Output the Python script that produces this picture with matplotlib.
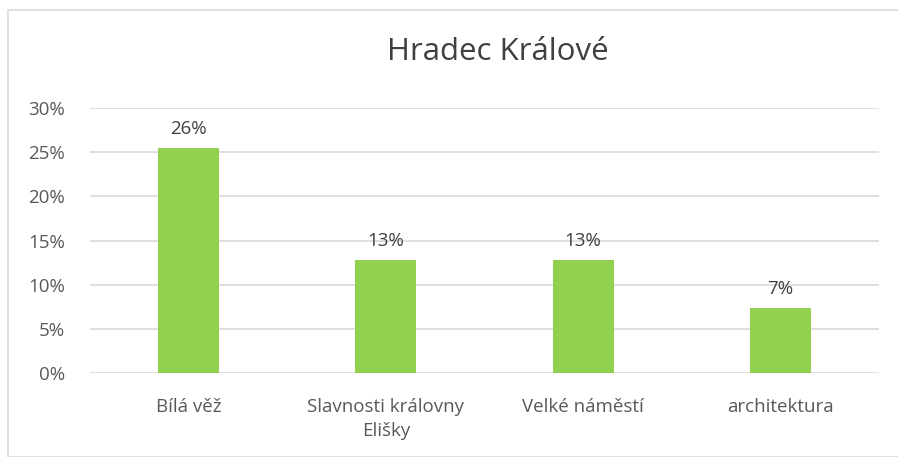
import matplotlib.pyplot as plt
from matplotlib.patches import Rectangle
from matplotlib.ticker import FuncFormatter

categories = ['Bílá věž', 'Slavnosti královny\nElišky', 'Velké náměstí', 'architektura']
values = [0.255, 0.128, 0.128, 0.074]
labels = ['26%', '13%', '13%', '7%']

plt.rcParams['font.family'] = ['Open Sans', 'DejaVu Sans']

W, H = 898, 457
fig = plt.figure(figsize=(W / 100, H / 100), dpi=100)

# outer chart frame
fig.patches.append(Rectangle((8 / W, 0), 1.0, 1 - 10 / H, transform=fig.transFigure,
                             fill=False, edgecolor='#d9d9d9', linewidth=1.2))

ax = fig.add_axes([90 / W, 1 - 373 / H, (879 - 90) / W, (373 - 108) / H])
x = range(len(categories))
ax.bar(x, values, width=0.31, color='#92d050', zorder=3)

for xi, v, lab in zip(x, values, labels):
    ax.text(xi, v + 0.011, lab, ha='center', va='bottom', fontsize=13.5, color='#404040')

ax.set_xlim(-0.5, 3.5)
ax.set_ylim(0, 0.30)
ax.set_yticks([0, 0.05, 0.10, 0.15, 0.20, 0.25, 0.30])
ax.yaxis.set_major_formatter(FuncFormatter(lambda v, p: f'{v * 100:.0f}%'))
ax.set_xticks(list(x))
ax.set_xticklabels(categories, fontsize=13.5, color='#595959', linespacing=1.45)
ax.tick_params(axis='y', labelsize=13.5, labelcolor='#595959', length=0, pad=18)
ax.tick_params(axis='x', length=0, pad=18)
ax.grid(axis='y', color='#d9d9d9', linewidth=1.2, zorder=0)
for s in ax.spines.values():
    s.set_visible(False)

fig.text(498 / W, 1 - 52 / H, 'Hradec Králové', ha='center', va='center',
         fontsize=22.5, color='#404040')

fig.savefig('out.png', dpi=100)
